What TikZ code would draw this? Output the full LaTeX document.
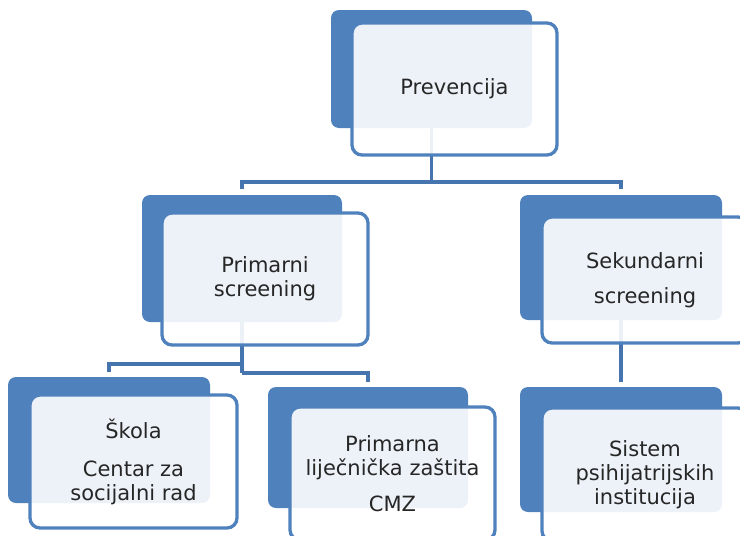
\documentclass[tikz,border=0pt]{standalone}
\usepackage{fontspec}
\setmainfont{DejaVu Sans}
\definecolor{backblue}{HTML}{4F81BD}
\definecolor{lineblue}{HTML}{4674AE}
\definecolor{txt}{HTML}{262626}
\begin{document}
\begin{tikzpicture}[x=1pt,y=-1pt,
  backbox/.style={rectangle,rounded corners=8pt,fill=backblue,draw=none,inner sep=0pt},
  frontbox/.style={rectangle,rounded corners=10pt,draw=backblue,line width=3.3pt,fill=white,fill opacity=0.9,text opacity=1,inner sep=0pt,align=center,text=txt,font=\fontsize{21}{24}\selectfont},
  conn/.style={draw=lineblue,line width=3.5pt}]
\useasboundingbox (0,0) rectangle (740,536);
\clip (0,0) rectangle (740,536);
% centres of the back boxes and levels of the bars
\coordinate (prevC) at (431.5,69);
\coordinate (primC) at (242,258.5);
\coordinate (sekC) at (621,257.5);
\coordinate (skC) at (109,440);
\coordinate (pmC) at (368,447.5);
\coordinate (siC) at (621,449.5);
\coordinate (barA) at (0,182);
\coordinate (tickA) at (0,189);
\coordinate (barL) at (0,364);
\coordinate (tickL) at (0,372);
\coordinate (barR) at (0,373);
\coordinate (tickR) at (0,382);
% connectors
\draw[conn] (prevC) -- (prevC |- barA);
\draw[conn] (primC |- tickA) -- (primC |- barA) -- (sekC |- barA) -- (sekC |- tickA);
\draw[conn] (primC) -- (primC |- barR);
\draw[conn] (skC |- tickL) -- (skC |- barL) -- (primC |- barL);
\draw[conn] (primC |- barR) -- (pmC |- barR) -- (pmC |- tickR);
\draw[conn] (sekC) -- (sekC |- tickR);
% back boxes
\node[backbox,minimum width=201pt,minimum height=118pt] (prevB) at (prevC) {};
\node[backbox,minimum width=200pt,minimum height=127pt] (primB) at (primC) {};
\node[backbox,minimum width=202pt,minimum height=125pt] (sekB) at (sekC) {};
\node[backbox,minimum width=202pt,minimum height=126pt] (skB) at (skC) {};
\node[backbox,minimum width=200pt,minimum height=121pt] (pmB) at (pmC) {};
\node[backbox,minimum width=202pt,minimum height=125pt] (siB) at (siC) {};
% front boxes
\node[frontbox,minimum width=205pt,minimum height=132pt] (prev) at (454.5,89) {Prevencija};
\node[frontbox,minimum width=206pt,minimum height=132pt] (prim) at (265,279) {Primarni\\screening};
\node[frontbox,minimum width=206pt,minimum height=126pt] (sek) at (645,280) {Sekundarni\\[11pt]screening};
\node[frontbox,minimum width=207pt,minimum height=133pt] (sk) at (133.5,461.5) {Škola\\[14pt]Centar za\\socijalni rad};
\node[frontbox,minimum width=205pt,minimum height=133pt] (pm) at (392.5,473.5) {Primarna\\liječnička zaštita\\[12pt]CMZ};
\node[frontbox,minimum width=206pt,minimum height=133pt] (si) at (645,474.5) {Sistem\\psihijatrijskih\\institucija};
\end{tikzpicture}
\end{document}
